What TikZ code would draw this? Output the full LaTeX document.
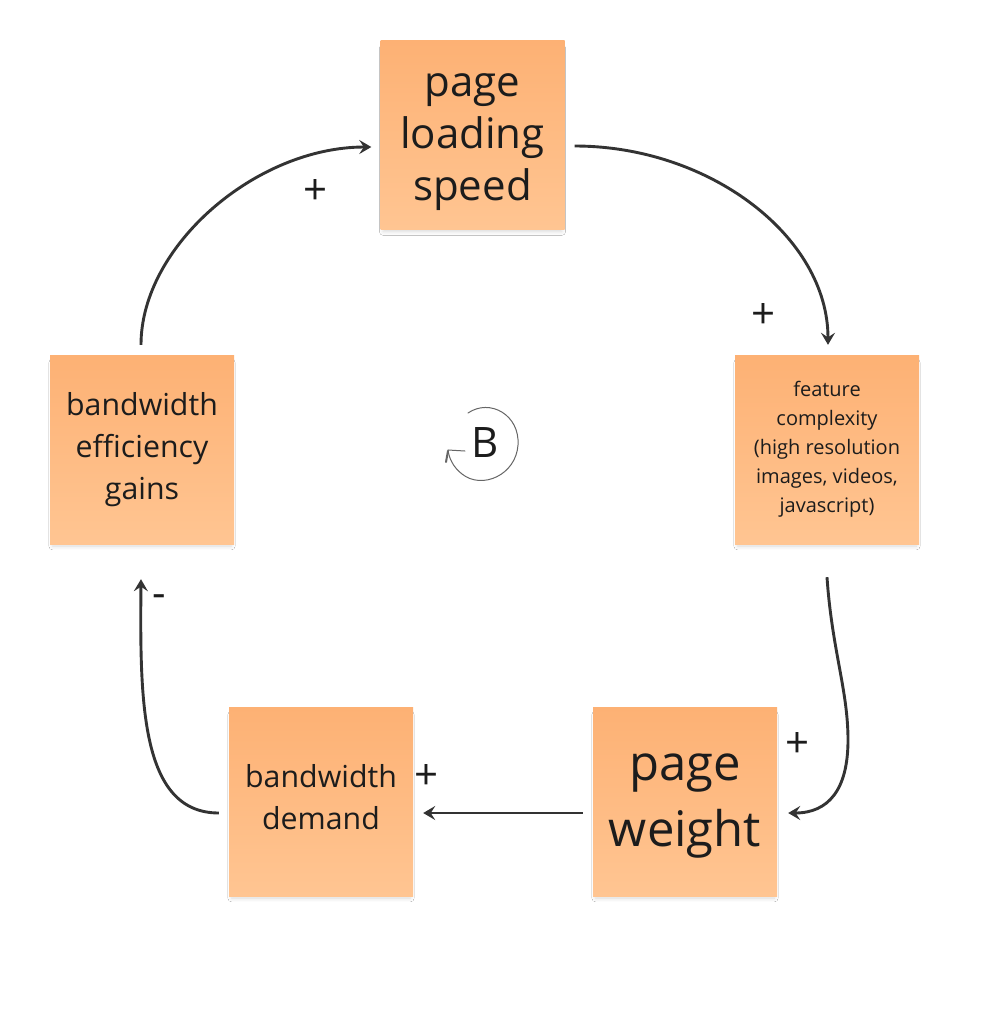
\documentclass[tikz,border=0pt]{standalone}
\usepackage{fontspec}
\setmainfont{Open Sans}
\usetikzlibrary{arrows.meta,shadows.blur}
\definecolor{stickytop}{HTML}{FDB174}
\definecolor{stickybot}{HTML}{FFC592}
\definecolor{inkc}{HTML}{1C1C1C}
\definecolor{linec}{HTML}{333333}
\tikzset{
  sticky/.style={minimum width=184pt, minimum height=189pt, inner sep=0pt,
    top color=stickytop, bottom color=stickybot, draw=none,
    blur shadow={shadow xshift=0pt, shadow yshift=-5pt, shadow scale=0.97, shadow blur radius=4pt, shadow opacity=16}},
  txt/.style={align=center, text=inkc, inner sep=0pt},
  conn/.style={draw=linec, line width=2.9pt, -{Stealth[length=12pt,width=14pt,inset=4.5pt]}},
  sign/.style={text=inkc, font=\fontsize{42}{42}\selectfont, inner sep=0pt}
}
\begin{document}
\begin{tikzpicture}[x=1pt,y=-1pt]
\useasboundingbox[fill=white] (0,0) rectangle (986,1013);

\node[sticky, label={[txt, yshift=-7pt, font=\fontsize{42}{52}\selectfont]center:{page\\loading\\speed}}] (pls) at (472.5,135) {};
\node[sticky, label={[txt, font=\fontsize{20}{29}\selectfont]center:{feature\\complexity\\(high resolution\\images, videos,\\javascript)}}] (fc) at (827,449.5) {};
\node[sticky, label={[txt, yshift=-5pt, font=\fontsize{49}{66}\selectfont]center:{page\\weight}}] (pw) at (685,801.5) {};
\node[sticky, label={[txt, yshift=4pt, font=\fontsize{30.3}{42}\selectfont]center:{bandwidth\\demand}}] (bd) at (321,801.5) {};
\node[sticky, label={[txt, font=\fontsize{30.3}{42}\selectfont]center:{bandwidth\\efficiency\\gains}}] (beg) at (142,449.5) {};

% connectors
\draw[conn] ([shift={(-1pt,10pt)}]beg.north) .. controls +(0,-99) and +(-115,0) .. ([shift={(-9pt,-12pt)}]pls.west);
\draw[conn] ([shift={(10pt,-11pt)}]pls.east) .. controls +(135,0) and +(0,-108) .. ([shift={(1pt,10pt)}]fc.north);
\coordinate (a3m) at (848,740);
\draw[conn] ([shift={(0pt,-33pt)}]fc.south) .. controls +(5,73) and +(0,-50) .. (a3m) .. controls +(0,50) and +(40,0) .. ([shift={(11pt,-11.5pt)}]pw.east);
\draw[conn] ([shift={(-10pt,-11.5pt)}]pw.west) -- ([shift={(10pt,-11.5pt)}]bd.east);
\draw[conn] ([shift={(-10pt,-11.5pt)}]bd.west) .. controls +(-79,0) and +(-1,120) .. ([shift={(-1pt,-35pt)}]beg.south);

% polarity signs
\node[sign] (s1) at (316,192) {+};
\node[sign] (s2) at (764,316) {+};
\node[sign] (s3) at (798,745) {+};
\node[sign] (s4) at (427,777) {+};
\node[sign] (s5) at (159,601) {-};

% loop marker
\node[text=inkc, font=\fontsize{42}{42}\selectfont, inner sep=0pt] (B) at (485,442) {B};
\draw[draw=black!60, line width=1pt, line cap=round]
  (468,413) .. controls (490,398) and (520,415) .. (518,445)
  .. controls (516,475) and (482,490) .. (462,474)
  .. controls (453,467) and (449,458) .. (448,450);
\draw[draw=black!60, line width=1pt, line cap=round] (448,450) -- (465,451);
\draw[draw=black!60, line width=2pt, line cap=round] (448,451) -- (446,462);
\end{tikzpicture}
\end{document}
